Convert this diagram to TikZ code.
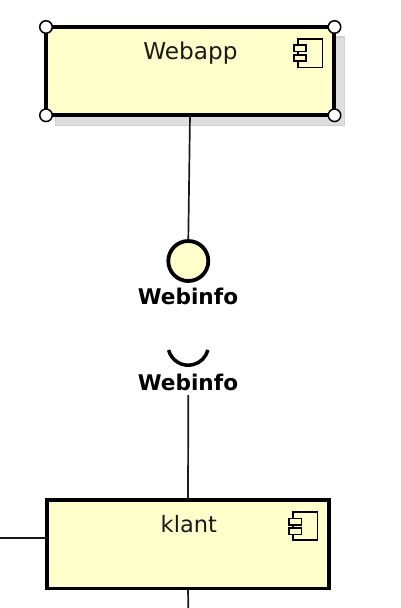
\documentclass[tikz,border=0pt]{standalone}
\usepackage{fontspec}
\setmainfont{DejaVu Sans}
\definecolor{compfill}{HTML}{FFFFCB}
\definecolor{shadowfill}{HTML}{DEDEDE}
\definecolor{shadowedge}{HTML}{D0D0D0}
\tikzset{
  compbox/.style={draw=black,line width=3.6pt,fill=compfill,rectangle,inner sep=0pt,outer sep=0pt},
  conn/.style={draw=black!90,line width=1.7pt},
  handle/.style={circle,draw=black,fill=white,line width=1.5pt,minimum size=12.5pt,inner sep=0pt,outer sep=0pt},
  iconpart/.style={draw=black,line width=1.5pt,fill=compfill},
  nametext/.style={anchor=base,font=\fontsize{22.5}{26}\selectfont,text=black!90,inner sep=0pt},
  ifacetext/.style={anchor=base,font=\fontsize{21.6}{26}\selectfont\bfseries,text=black,inner sep=0pt},
  iface/.style={circle,draw=black,fill=compfill,line width=3.8pt,minimum size=40pt,inner sep=0pt,outer sep=1.9pt},
}
\begin{document}
\begin{tikzpicture}[x=1pt,y=-1pt]
\useasboundingbox (0,0) rectangle (400,608);
\fill[white] (0,0) rectangle (400,608);
% shadow
\draw[fill=shadowfill,draw=shadowedge,line width=1.5pt] (55.5,37) rectangle (344.5,125.5);
% webapp
\node[compbox,minimum width=288pt,minimum height=88pt] (webapp) at (190,71) {};
\node[nametext,font=\fontsize{23.2}{26}\selectfont] (webapptext) at (190.5,59) {Webapp};
\draw[iconpart] (298,39) rectangle (322.3,67.3);
\draw[iconpart] (294,45.2) rectangle (306,51.6);
\draw[iconpart] (294,54.8) rectangle (306,61.2);
\node[handle] (h1) at (46,27) {};
\node[handle] (h2) at (334.5,27) {};
\node[handle] (h3) at (46,115.3) {};
\node[handle] (h4) at (334.5,115.3) {};
% provided interface
\node[iface] (prov) at (188.3,261) {};
\node[ifacetext] (provtext) at (188,304.3) {Webinfo};
\draw[conn] (webapp.south) -- (prov.north);
% required interface
\coordinate (sockstart) at (168.6,350);
\draw[line width=3.5pt,black] (sockstart) arc[start angle=194.5,end angle=345.5,radius=20.3pt];
\node[ifacetext] (reqtext) at (188,390) {Webinfo};
% klant
\node[compbox,minimum width=282pt,minimum height=88.5pt] (klant) at (188,544.3) {};
\node[nametext] (klanttext) at (188.8,532.7) {klant};
\draw[iconpart] (293,512) rectangle (317.3,540);
\draw[iconpart] (289,518.5) rectangle (301.3,525);
\draw[iconpart] (289,528) rectangle (301.3,534.3);
% connectors
\coordinate (reqfoot) at (188.3,395);
\coordinate (leftend) at (0,538.3);
\coordinate (bottomend) at (188.3,608);
\draw[conn] (reqfoot) -- (klant.north);
\draw[conn] (leftend) -- (leftend -| klant.west);
\draw[conn] (klant.south) -- (bottomend);
\end{tikzpicture}
\end{document}
